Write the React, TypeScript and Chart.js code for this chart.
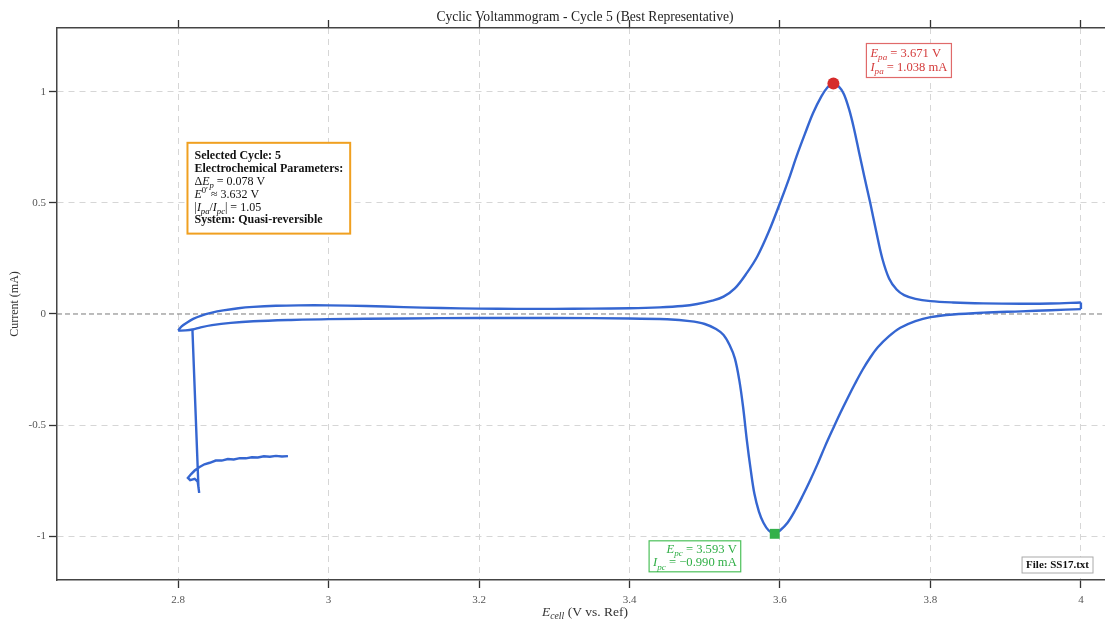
import { useEffect, useRef } from 'react';
import { Chart, registerables } from 'chart.js';

Chart.register(...registerables);

const FAM = "'Liberation Serif', 'DejaVu Serif', serif";
Chart.defaults.font.family = FAM;

// ---------- data ----------
const chartTitle = 'Cyclic Voltammogram - Cycle 5 (Best Representative)';
const yAxisTitle = 'Current (mA)';
const fileName = 'SS17.txt';

const xTicks = [2.8, 3, 3.2, 3.4, 3.6, 3.8, 4];
const yTicks = [-1, -0.5, 0, 0.5, 1];
const xRange = [2.639, 4.032];
const yRange = [-1.198, 1.288];

// anodic (forward) branch: potential (V) / current (mA)
const anodicE = [
  2.8, 2.805, 2.812, 2.82, 2.83, 2.845, 2.86, 2.88, 2.9, 2.93, 2.96, 3.0, 3.05, 3.1, 3.15,
  3.2, 3.25, 3.3, 3.35, 3.4, 3.44, 3.47, 3.49, 3.51, 3.525, 3.54, 3.556, 3.57, 3.585, 3.6,
  3.612, 3.622, 3.633, 3.644, 3.655, 3.663, 3.671, 3.678, 3.685, 3.692, 3.698, 3.705, 3.712,
  3.72, 3.728, 3.736, 3.745, 3.755, 3.765, 3.78, 3.8, 3.83, 3.87, 3.92, 3.96, 4.0,
];
const anodicI = [
  -0.075, -0.055, -0.038, -0.022, -0.008, 0.006, 0.016, 0.026, 0.032, 0.037, 0.039, 0.039,
  0.036, 0.031, 0.027, 0.024, 0.023, 0.023, 0.024, 0.026, 0.03, 0.036, 0.045, 0.06, 0.078,
  0.115, 0.185, 0.26, 0.37, 0.5, 0.61, 0.71, 0.81, 0.905, 0.98, 1.02, 1.038, 1.025, 0.99,
  0.92, 0.84, 0.73, 0.62, 0.5, 0.37, 0.25, 0.16, 0.11, 0.085, 0.068, 0.058, 0.052, 0.048,
  0.046, 0.047, 0.052,
];

// cathodic (reverse) branch, listed by increasing potential
const cathodicE = [
  2.8, 2.81, 2.819, 2.83, 2.845, 2.87, 2.9, 2.95, 3.0, 3.1, 3.2, 3.3, 3.4, 3.45, 3.48, 3.5,
  3.515, 3.525, 3.533, 3.54, 3.546, 3.551, 3.556, 3.561, 3.566, 3.572, 3.578, 3.585, 3.593,
  3.6, 3.61, 3.62, 3.63, 3.64, 3.65, 3.66, 3.67, 3.68, 3.69, 3.7, 3.71, 3.72, 3.73, 3.745,
  3.76, 3.78, 3.8, 3.83, 3.87, 3.92, 3.96, 4.0,
];
const cathodicI = [
  -0.075, -0.074, -0.07, -0.06, -0.05, -0.04, -0.033, -0.027, -0.023, -0.02, -0.018, -0.018,
  -0.02, -0.024, -0.032, -0.045, -0.068, -0.095, -0.14, -0.2, -0.3, -0.42, -0.57, -0.7, -0.81,
  -0.89, -0.94, -0.975, -0.99, -0.975, -0.94, -0.885, -0.82, -0.75, -0.675, -0.595, -0.52,
  -0.447, -0.378, -0.312, -0.25, -0.196, -0.15, -0.1, -0.062, -0.032, -0.014, -0.002, 0.006,
  0.012, 0.017, 0.022,
];

// switching point at the upper vertex
const vertexE = [4.0, 4.0];
const vertexI = [0.052, 0.022];

// initial (rest) segment before the sweep
const restE = [
  2.946, 2.938, 2.93, 2.922, 2.914, 2.906, 2.898, 2.89, 2.882, 2.874, 2.866, 2.858, 2.85,
  2.842, 2.835, 2.828, 2.822, 2.817, 2.813, 2.816, 2.822, 2.826, 2.828, 2.827, 2.819,
];
const restI = [
  -0.64, -0.642, -0.639, -0.643, -0.641, -0.646, -0.645, -0.65, -0.649, -0.655, -0.653,
  -0.66, -0.66, -0.67, -0.677, -0.69, -0.705, -0.722, -0.738, -0.748, -0.742, -0.755,
  -0.806, -0.78, -0.07,
];

const anodicPeak = { E: 3.671, I: 1.038 };
const cathodicPeak = { E: 3.593, I: -0.99 };
const deltaEp = '0.078';
const formalE = '3.632';
const peakRatio = '1.05';
const selectedCycle = '5';
const systemType = 'Quasi-reversible';

const pts = (xs: number[], ys: number[]) => xs.map((x, i) => ({ x, y: ys[i] }));

// ---------- rich text helpers ----------
type Seg = [string, string?];

function fontFor(style: string, size: number) {
  const small = style.includes('_') || style.includes('^');
  const sz = small ? size * 0.72 : size;
  return `${style.includes('i') ? 'italic ' : ''}${style.includes('b') ? 'bold ' : ''}${sz}px ${FAM}`;
}
function segsWidth(ctx: CanvasRenderingContext2D, segs: Seg[], size: number) {
  let w = 0;
  for (const [t, s = ''] of segs) {
    ctx.font = fontFor(s, size);
    w += ctx.measureText(t).width;
  }
  return w;
}
function drawSegs(ctx: CanvasRenderingContext2D, segs: Seg[], x: number, y: number, size: number) {
  let cx = x;
  for (const [t, s = ''] of segs) {
    ctx.font = fontFor(s, size);
    const dy = s.includes('_') ? size * 0.25 : s.includes('^') ? -size * 0.38 : 0;
    ctx.fillText(t, cx, y + dy);
    cx += ctx.measureText(t).width;
  }
}
function drawBox(
  ctx: CanvasRenderingContext2D,
  lines: Seg[][],
  o: {
    x: number; y: number; anchor: 'left' | 'right'; align: 'left' | 'right'; size: number;
    lh: number; padX: number; padY: number; border: string; bw: number; color: string;
  },
) {
  const widths = lines.map((l) => segsWidth(ctx, l, o.size));
  const w = Math.max(...widths) + o.padX * 2;
  const h = lines.length * o.lh + o.padY * 2;
  const left = o.anchor === 'left' ? o.x : o.x - w;
  ctx.save();
  ctx.fillStyle = '#ffffff';
  ctx.fillRect(left, o.y, w, h);
  ctx.strokeStyle = o.border;
  ctx.lineWidth = o.bw;
  ctx.setLineDash([]);
  ctx.strokeRect(left, o.y, w, h);
  ctx.fillStyle = o.color;
  ctx.textBaseline = 'alphabetic';
  ctx.textAlign = 'left';
  lines.forEach((l, i) => {
    const base = o.y + o.padY + o.lh * (i + 1) - o.lh * 0.25;
    const lx = o.align === 'left' ? left + o.padX : left + w - o.padX - widths[i];
    drawSegs(ctx, l, lx, base, o.size);
  });
  ctx.restore();
}

const decorPlugin = {
  id: 'decor',
  beforeDatasetsDraw(chart: any) {
    const { ctx, chartArea, scales } = chart;
    const y0 = scales.y.getPixelForValue(0);
    ctx.save();
    ctx.strokeStyle = '#7a7a7a';
    ctx.lineWidth = 1;
    ctx.setLineDash([5, 3]);
    ctx.beginPath();
    ctx.moveTo(chartArea.left, y0);
    ctx.lineTo(chartArea.right, y0);
    ctx.stroke();
    ctx.restore();
  },
  afterDraw(chart: any) {
    const { ctx, chartArea, scales } = chart;
    const cx = (chartArea.left + chartArea.right) / 2 + 4;
    ctx.save();
    // title
    ctx.fillStyle = '#222';
    ctx.font = `13.6px ${FAM}`;
    ctx.textAlign = 'center';
    ctx.textBaseline = 'alphabetic';
    ctx.fillText(chartTitle, cx, 21);
    // x axis title
    const xt: Seg[] = [['E', 'i'], ['cell', 'i_'], [' (V vs. Ref)', '']];
    const xw = segsWidth(ctx, xt, 13.5);
    ctx.fillStyle = '#333';
    ctx.textAlign = 'left';
    drawSegs(ctx, xt, cx - xw / 2, 616, 13.5);
    ctx.restore();

    const pax = scales.x.getPixelForValue(anodicPeak.E);
    const pay = scales.y.getPixelForValue(anodicPeak.I);
    const pcx = scales.x.getPixelForValue(cathodicPeak.E);
    const pcy = scales.y.getPixelForValue(cathodicPeak.I);

    drawBox(
      ctx,
      [
        [['E', 'i'], ['pa', 'i_'], [` = ${anodicPeak.E.toFixed(3)} V`]],
        [['I', 'i'], ['pa', 'i_'], [` = ${anodicPeak.I.toFixed(3)} mA`]],
      ],
      { x: pax + 33, y: pay - 40, anchor: 'left', align: 'left', size: 12.6, lh: 14, padX: 4, padY: 3, border: '#e06a6a', bw: 1.2, color: '#d43a3a' },
    );
    drawBox(
      ctx,
      [
        [['E', 'i'], ['pc', 'i_'], [` = ${cathodicPeak.E.toFixed(3)} V`]],
        [['I', 'i'], ['pc', 'i_'], [` = \u2212${Math.abs(cathodicPeak.I).toFixed(3)} mA`]],
      ],
      { x: pcx - 34, y: pcy + 7, anchor: 'right', align: 'right', size: 12.6, lh: 13.5, padX: 4, padY: 2, border: '#4cc05a', bw: 1.2, color: '#2fae45' },
    );
    const w = chartArea.right - chartArea.left;
    const h = chartArea.bottom - chartArea.top;
    drawBox(
      ctx,
      [
        [[`Selected Cycle: ${selectedCycle}`, 'b']],
        [['Electrochemical Parameters:', 'b']],
        [['\u0394'], ['E', 'i'], ['p', 'i_'], [` = ${deltaEp} V`]],
        [['E', 'i'], ['0\u2032', '^'], [` \u2248 ${formalE} V`]],
        [['|'], ['I', 'i'], ['pa', 'i_'], ['/'], ['I', 'i'], ['pc', 'i_'], [`| = ${peakRatio}`]],
        [[`System: ${systemType}`, 'b']],
      ],
      { x: chartArea.left + 0.1245 * w, y: chartArea.top + 0.208 * h, anchor: 'left', align: 'left', size: 12, lh: 12.8, padX: 7, padY: 7, border: '#f0a020', bw: 2, color: '#111' },
    );
    drawBox(
      ctx,
      [[[`File: ${fileName}`, 'b']]],
      { x: chartArea.right - 12, y: chartArea.bottom - 23, anchor: 'right', align: 'left', size: 11, lh: 12, padX: 4, padY: 2, border: '#aaaaaa', bw: 1, color: '#111' },
    );
  },
};

export default function App() {
  const ref = useRef<HTMLCanvasElement | null>(null);
  useEffect(() => {
    if (!ref.current) return;
    const blue = '#3566d1';
    const lineDs = (data: any[], tension: number) => ({
      data,
      showLine: true,
      borderColor: blue,
      borderWidth: 2.4,
      pointRadius: 0,
      tension,
      order: 2,
    });
    const tickCfg = {
      color: '#555',
      font: { size: 11, family: FAM },
      padding: 6,
      autoSkip: false,
      maxRotation: 0,
      callback: (v: any) => String(v),
    };
    const zeroPad = (s: any) => {
      s.paddingLeft = 0;
      s.paddingRight = 0;
      s.paddingTop = 0;
      s.paddingBottom = 0;
    };
    const chart = new Chart(ref.current, {
      type: 'scatter',
      data: {
        datasets: [
          lineDs(pts(anodicE, anodicI), 0.35) as any,
          lineDs(pts(cathodicE, cathodicI), 0.35) as any,
          lineDs(pts(vertexE, vertexI), 0) as any,
          lineDs(pts(restE, restI), 0) as any,
          {
            data: [{ x: anodicPeak.E, y: anodicPeak.I }],
            pointStyle: 'circle',
            pointRadius: 6,
            backgroundColor: '#d62b2b',
            borderColor: '#d62b2b',
            borderWidth: 0,
            order: 0,
          },
          {
            data: [{ x: cathodicPeak.E, y: cathodicPeak.I }],
            pointStyle: 'rect',
            pointRadius: 7,
            backgroundColor: '#33b04a',
            borderColor: '#33b04a',
            borderWidth: 0,
            order: 0,
          },
        ],
      },
      options: {
        responsive: true,
        maintainAspectRatio: false,
        animation: false,
        layout: { padding: 0, autoPadding: false },
        plugins: {
          legend: { display: false },
          title: { display: false },
          tooltip: { enabled: false },
        },
        scales: {
          x: {
            type: 'linear',
            position: 'bottom',
            min: xRange[0],
            max: xRange[1],
            afterBuildTicks: (s: any) => { s.ticks = xTicks.map((v) => ({ value: v })); },
            afterFit: (s: any) => { s.height = 41; zeroPad(s); },
            ticks: tickCfg,
            grid: { color: '#d6d6d6', lineWidth: 1, tickLength: 8, tickColor: '#333', tickWidth: 1.3 },
            border: { display: true, color: '#444', width: 1.5, dash: [6, 5] },
          },
          x2: {
            type: 'linear',
            axis: 'x',
            position: 'top',
            min: xRange[0],
            max: xRange[1],
            afterBuildTicks: (s: any) => { s.ticks = xTicks.map((v) => ({ value: v })); },
            afterFit: (s: any) => { s.height = 28; zeroPad(s); },
            ticks: { display: false },
            grid: { drawOnChartArea: false, tickLength: 8, tickColor: '#333', tickWidth: 1.3 },
            border: { display: true, color: '#444', width: 1.5 },
          },
          y: {
            type: 'linear',
            min: yRange[0],
            max: yRange[1],
            afterBuildTicks: (s: any) => { s.ticks = yTicks.map((v) => ({ value: v })); },
            afterFit: (s: any) => { s.width = 57; zeroPad(s); },
            ticks: { ...tickCfg, padding: 3 },
            grid: {
              color: (c: any) => (c.tick && c.tick.value === 0 ? 'rgba(0,0,0,0)' : '#d6d6d6'),
              lineWidth: 1,
              tickLength: 8,
              tickColor: '#333',
              tickWidth: 1.3,
            },
            border: { display: true, color: '#444', width: 1.5, dash: [6, 5] },
            title: {
              display: true,
              text: yAxisTitle,
              color: '#333',
              font: { size: 12, family: FAM },
              padding: { top: 8, bottom: 0 },
            },
          },
        } as any,
      },
      plugins: [decorPlugin],
    });
    return () => chart.destroy();
  }, []);
  return (
    <div style={{ position: 'fixed', left: 0, top: 0, width: 1105, height: 621, background: '#fff' }}>
      <canvas ref={ref} />
    </div>
  );
}
